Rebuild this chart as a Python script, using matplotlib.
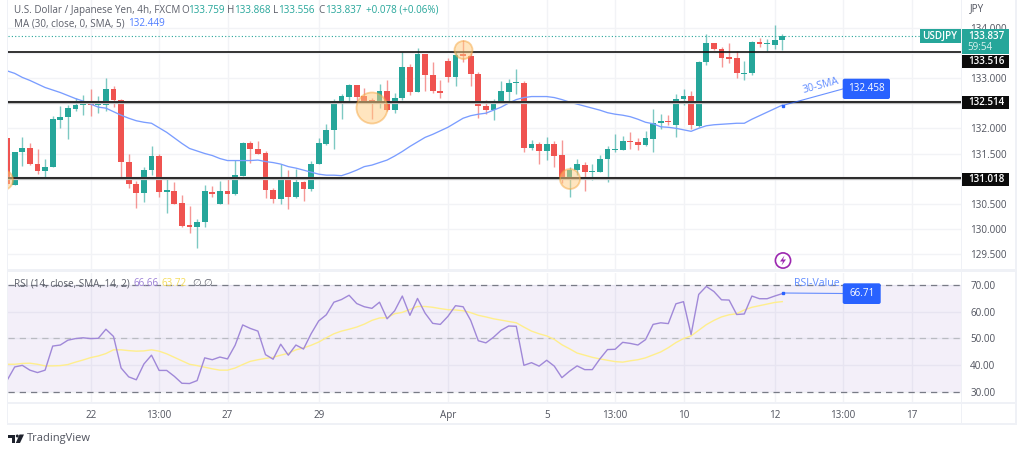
import numpy as np
import matplotlib
matplotlib.use("Agg")
import matplotlib.pyplot as plt
from matplotlib.patches import Circle, Rectangle, FancyBboxPatch, Polygon

opens = [131.80,130.88,131.52,131.60,131.30,131.15,131.24,132.17,132.22,132.39,
132.46,132.51,132.46,132.47,132.78,132.57,131.34,130.89,130.71,131.17,
131.46,130.74,130.76,130.51,130.08,130.05,130.14,130.74,130.50,130.76,
130.70,131.06,131.70,131.59,131.51,130.78,130.60,131.03,130.63,130.94,
130.79,131.29,131.69,131.97,132.51,132.63,132.85,132.64,132.56,132.52,
132.75,132.36,132.61,133.22,132.73,133.48,133.06,132.75,133.34,133.01,
133.47,133.43,133.08,132.44,132.36,132.53,132.73,132.89,132.89,131.60,
131.68,131.54,131.68,131.47,130.99,131.17,131.28,131.14,131.14,131.40,
131.57,131.57,131.75,131.73,131.67,131.79,132.11,132.14,132.07,132.59,
132.65,132.05,133.31,133.69,133.57,133.41,133.39,133.08,133.09,133.72,
133.67,133.66,133.76]
highs = [131.80,131.52,131.83,131.70,131.59,131.40,132.24,132.45,132.46,132.61,
132.66,132.77,132.64,132.99,132.83,132.59,131.49,130.95,131.24,131.65,
131.49,131.02,130.94,130.68,130.46,130.21,130.88,130.85,130.95,131.03,
131.37,131.72,131.75,131.75,131.54,130.81,131.30,131.17,131.19,130.96,
131.36,131.80,132.09,132.58,132.69,132.87,132.85,132.79,132.61,132.87,
132.96,132.71,133.51,133.28,133.59,133.48,133.31,132.96,133.39,133.51,
133.75,133.49,133.11,132.56,132.59,132.94,132.97,133.17,132.94,131.77,
131.72,131.83,131.75,131.77,131.24,131.40,131.34,131.29,131.47,131.65,
131.89,131.85,131.92,131.81,131.95,132.38,132.28,132.26,132.68,132.78,
132.74,133.34,133.87,133.69,133.61,133.70,133.54,133.34,133.73,133.80,
133.77,134.04,133.87]
lows = [130.87,130.88,131.25,131.27,131.09,131.02,131.24,132.01,131.79,132.35,
132.26,132.25,132.30,132.35,132.43,130.99,130.82,130.41,130.54,131.07,
130.64,130.31,130.50,130.05,129.92,129.63,130.05,130.64,130.49,130.49,
130.68,131.05,131.32,131.49,130.62,130.52,130.50,130.39,130.62,130.56,
130.76,131.29,131.67,131.59,132.18,132.54,132.53,132.50,132.18,132.41,
132.35,132.31,132.56,132.67,132.73,132.75,132.71,132.61,132.91,132.83,
133.32,132.84,132.20,132.28,132.17,132.51,132.51,132.69,131.52,131.57,
131.29,131.37,131.23,130.91,130.63,131.07,130.76,130.97,131.13,130.94,
131.53,131.57,131.59,131.56,131.64,131.52,131.99,132.07,131.82,132.46,
131.99,132.02,133.26,133.55,133.22,133.30,132.99,132.96,133.06,133.62,
133.54,133.57,133.55]
closes = [130.89,131.52,131.60,131.29,131.15,131.24,132.18,132.22,132.40,132.46,
132.52,132.46,132.48,132.78,132.57,131.34,130.89,130.71,131.17,131.46,
130.74,130.77,130.50,130.07,130.05,130.15,130.75,130.70,130.76,130.69,
131.07,131.70,131.58,131.50,130.78,130.60,131.03,130.63,130.94,130.79,
131.29,131.70,131.97,132.53,132.64,132.85,132.63,132.54,132.52,132.75,
132.36,132.61,133.22,132.73,133.48,133.06,132.74,132.71,133.01,133.46,
133.43,133.08,132.44,132.36,132.53,132.74,132.89,132.91,131.60,131.68,
131.54,131.68,131.46,130.99,131.17,131.29,131.14,131.16,131.40,131.58,
131.59,131.75,131.72,131.67,131.80,132.11,132.14,132.12,132.59,132.65,
132.07,133.32,133.69,133.57,133.39,133.38,133.09,133.10,133.72,133.67,
133.68,133.75,133.83]
sma30 = [133.14,133.09,133.01,132.95,132.88,132.81,132.76,132.71,132.65,132.59,
132.54,132.48,132.42,132.40,132.33,132.26,132.20,132.15,132.12,132.10,
132.01,131.92,131.81,131.70,131.60,131.55,131.50,131.46,131.40,131.36,
131.36,131.36,131.36,131.37,131.34,131.32,131.29,131.24,131.21,131.17,
131.13,131.09,131.07,131.07,131.06,131.11,131.17,131.24,131.27,131.32,
131.37,131.45,131.54,131.64,131.73,131.82,131.88,131.95,132.02,132.11,
132.20,132.25,132.28,132.30,132.36,132.42,132.50,132.57,132.61,132.63,
132.63,132.63,132.61,132.57,132.52,132.48,132.44,132.40,132.36,132.31,
132.28,132.26,132.23,132.18,132.12,132.09,132.03,132.02,132.00,131.97,
131.94,132.00,132.05,132.07,132.08,132.09,132.10,132.10,132.18,132.25,
132.32,132.39,132.46]
rsi = [34.3,39.3,39.9,38.1,37.2,38.1,47.1,47.5,49.3,49.9,
50.2,49.9,50.0,53.4,50.7,38.9,35.6,34.5,40.4,43.7,
38.0,38.0,35.8,33.2,33.1,34.2,42.7,42.0,43.0,42.3,
47.4,55.0,53.7,52.7,43.9,42.2,47.8,43.7,47.5,46.0,
51.7,56.5,58.8,63.5,64.5,66.1,63.0,61.8,61.2,63.5,
57.3,60.3,65.8,58.6,64.9,59.4,55.6,55.2,58.2,62.2,
61.8,56.7,49.1,48.3,50.4,53.0,54.6,54.5,39.9,40.9,
39.6,41.8,39.6,35.3,37.7,39.7,38.3,38.3,42.3,45.8,
45.9,48.5,48.1,47.5,49.5,55.2,55.8,55.5,62.9,63.7,
51.4,66.4,69.4,67.5,64.4,64.3,58.9,59.1,65.8,64.8,
64.8,65.8,66.71]
rsi_ma = [40.3,40.3,40.6,40.7,40.3,39.7,39.7,39.8,40.2,41.1,
41.9,42.8,43.4,44.3,45.7,45.7,45.4,45.2,45.3,45.7,
45.2,44.2,42.9,41.6,40.3,39.8,39.2,38.6,38.1,38.1,
38.9,40.2,41.4,42.0,42.5,42.9,43.7,44.4,45.7,46.4,
47.4,48.6,50.2,51.7,52.7,53.4,54.2,55.3,56.7,57.6,
57.7,59.2,59.7,60.8,61.9,61.9,61.6,61.1,60.7,60.6,
60.3,59.6,58.6,58.0,57.3,56.8,56.3,55.8,54.2,52.7,
51.7,50.9,49.6,47.6,46.1,44.5,43.7,42.9,42.3,41.8,
41.3,41.1,41.6,42.0,42.7,43.8,44.9,46.5,48.4,49.9,
50.9,53.0,55.1,56.7,58.0,58.8,59.2,60.6,61.6,62.2,
62.8,63.4,63.72]
support_levels = [133.516, 132.514, 131.018]
price_ticks = [134.0,133.5,133.0,132.5,132.0,131.5,131.0,130.5,130.0,129.5]
hidden_price_ticks = [133.5, 132.5, 131.0]
rsi_ticks = [70,60,50,40,30]
time_tick_pos = [11,20,29,41,58,71,80,89,101,110,119]
time_tick_labels = ["22","13:00","27","29","Apr","5","13:00","10","12","13:00","17"]
last_price = 133.837
sma_last = 132.458
rsi_last = 66.71

plt.rcParams['font.family'] = ['Open Sans', 'DejaVu Sans']
W, H = 1024, 453
GREEN, RED, BLUE = '#26a69a', '#ef5350', '#2962ff'
GRID, FRAME, TXT = '#f2f3f6', '#eff1f6', '#50535e'
FS = 7.1
fig = plt.figure(figsize=(W/100, H/100), dpi=100, facecolor='white')

def place(x0, y0, x1, y1, **kw):
    return fig.add_axes([x0/W, 1-y1/H, (x1-x0)/W, (y1-y0)/H], **kw)

xlim = ((8-7.1)/7.6, (961.5-7.1)/7.6)
ax = place(8, 0, 961.5, 268.5)
ax.set_xlim(*xlim)
ax.set_ylim(129.218, 134.546)
rx = place(8, 272.5, 961.5, 402)
rx.set_xlim(*xlim)
rx.set_ylim(26.2, 74.6)

idx = np.arange(len(closes))
for a in (ax, rx):
    for s in a.spines.values():
        s.set_visible(False)
    a.set_xticks(time_tick_pos)
    a.grid(True, color=GRID, lw=1)
    a.set_axisbelow(True)
    a.yaxis.tick_right()

ax.set_yticks(price_ticks)
ax.set_yticklabels(["" if v in hidden_price_ticks else f"{v:.3f}" for v in price_ticks])
ax.tick_params(axis='y', length=0, pad=6.2, labelsize=FS, labelcolor=TXT)
ax.tick_params(axis='x', length=0, labelbottom=False)
rx.set_yticks(rsi_ticks)
rx.set_yticklabels([f"{v:.2f}" for v in rsi_ticks])
rx.tick_params(axis='y', length=0, pad=6.2, labelsize=FS, labelcolor=TXT)
rx.set_xticklabels(time_tick_labels)
rx.tick_params(axis='x', length=0, pad=5.5, labelsize=FS, labelcolor=TXT)

# candles
o, h, l, c = map(np.array, (opens, highs, lows, closes))
cols = [GREEN if cc >= oo else RED for oo, cc in zip(o, c)]
ax.vlines(idx, l, h, colors=cols, lw=1.0, alpha=0.6, zorder=3)
bottoms = np.minimum(o, c)
heights = np.maximum(np.abs(c-o), 0.02)
ax.bar(idx, heights, bottom=bottoms, width=0.74, color=cols, lw=0, zorder=4)

ax.plot(idx, sma30, color='#7a9dff', lw=0.95, zorder=5)
ax.axhline(last_price, color=GREEN, lw=0.8, ls=(0, (1, 2)), zorder=2)
for lv in support_levels:
    if lv != support_levels[0]:
        ax.axhline(lv, color='#bdbdbd', lw=2.3, zorder=5.5)
    ax.axhline(lv, color='#111111', lw=1.2, zorder=6)

# RSI pane
rx.axhspan(30, 70, color='#7e57c2', alpha=0.09, lw=0, zorder=1)
rx.axhline(70, color='#787b86', lw=0.9, ls=(0, (5, 4)), zorder=2)
rx.axhline(50, color='#b9bbc2', lw=0.9, ls=(0, (5, 4)), zorder=2)
rx.axhline(30, color='#787b86', lw=0.9, ls=(0, (5, 4)), zorder=2)
rx.plot(idx, rsi_ma, color='#ffee8c', lw=1.0, zorder=3)
rx.plot(idx, rsi, color='#a088d8', lw=1.0, zorder=4)

# pixel overlay
ov = fig.add_axes([0, 0, 1, 1], zorder=10)
ov.set_xlim(0, W)
ov.set_ylim(H, 0)
ov.axis('off')
ov.patch.set_alpha(0)

# frame
for (x0, y0, x1, y1) in [(6.5, 0, 8, 424), (961, 0, 962, 424), (1015, 0, 1016.5, 424),
                         (8, 269, 1015, 272), (8, 402, 1015, 403.5), (6.5, 423, 1016.5, 425)]:
    ov.add_patch(Rectangle((x0, y0), x1-x0, y1-y0, color=FRAME, lw=0))

# highlight circles
for cx, cy, r in [(3, 180, 10), (372, 108, 15.5), (463.5, 50, 9), (570, 179, 10)]:
    p = Circle((cx, cy), r, fc='#ffcc80', ec='#f5a742', alpha=0.5, lw=1.3)
    ov.add_patch(p)
    p.set_clip_box(ax.bbox)

def box(x0, y0, x1, y1, color, rounded=False):
    if rounded:
        ov.add_patch(FancyBboxPatch((x0+2, y0+2), x1-x0-4, y1-y0-4, boxstyle='round,pad=2',
                                    fc=color, ec='none'))
    else:
        ov.add_patch(Rectangle((x0, y0), x1-x0, y1-y0, color=color, lw=0))

# last price tags
box(961.5, 29.3, 1009, 54.3, GREEN)
box(919.5, 29.3, 961, 42.7, GREEN)
ov.text(940, 36.3, "USDJPY", color='white', fontsize=FS, ha='center', va='center', fontweight='semibold')
ov.text(986, 36.5, f"{last_price:.3f}", color='white', fontsize=FS, ha='center', va='center', fontweight='semibold')
ov.text(980, 48, "59:54", color='#d8f1ee', fontsize=FS, ha='center', va='center')
for lv, y0 in zip(support_levels, [55, 96, 172.5]):
    box(961.5, y0, 1009, y0+13.3, '#0b0b0b')
    ov.text(986, y0+6.6, f"{lv:.3f}", color='white', fontsize=FS, ha='center', va='center', fontweight='semibold')
ov.text(970, 9, "JPY", color=TXT, fontsize=FS, ha='left', va='center')

# callouts
ov.plot([782.5, 842.7], [105.5, 89], color=BLUE, lw=0.8, alpha=0.7)
ov.plot([782.5], [105.5], 's', color=BLUE, ms=2)
box(842.7, 78.7, 890, 99, BLUE, True)
ov.text(866.4, 88.8, f"{sma_last:.3f}", color='white', fontsize=FS, ha='center', va='center')
ov.text(820.5, 86, "30-SMA", color='#5f8bff', fontsize=7.6, ha='center', va='center', rotation=15)
ov.plot([782.5, 842.7], [293, 293.5], color=BLUE, lw=0.8, alpha=0.7)
ov.plot([782.5], [293], 's', color=BLUE, ms=2)
box(842.7, 283.3, 880.7, 304, BLUE, True)
ov.text(861.7, 293.6, f"{rsi_last:.2f}", color='white', fontsize=FS, ha='center', va='center')
ov.text(816.7, 284, "RSI-Value", color='#5f8bff', fontsize=7.6, ha='center', va='center')

# lightning icon
ov.add_patch(Circle((783, 260.5), 7.6, fc='white', ec='#9c27b0', lw=1.2))
ov.add_patch(Polygon([(784.5, 255.5), (780, 261.5), (783, 261.5), (781.5, 265.5), (786, 259.5), (783, 259.5)],
                     fc='#9c27b0', ec='none'))

# legends
TITLE = '#5d606b'
ov.text(14, 10.5, "U.S. Dollar / Japanese Yen, 4h, FXCM", color=TITLE, fontsize=FS, va='center')
for x, s, col in [(181, "O", TITLE), (188, "133.759", GREEN), (227, "H", TITLE), (234, "133.868", GREEN),
                  (273, "L", TITLE), (278, "133.556", GREEN), (318, "C", TITLE), (325, "133.837", GREEN),
                  (366, "+0.078 (+0.06%)", GREEN)]:
    ov.text(x, 10.5, s, color=col, fontsize=FS, va='center')
ov.text(14, 24, "MA (30, close, 0, SMA, 5)", color=TITLE, fontsize=FS, va='center')
ov.text(128, 24, "132.449", color='#4f7dff', fontsize=FS, va='center')
ov.text(14, 283.5, "RSI (14, close, SMA, 14, 2)", color=TITLE, fontsize=FS, va='center')
ov.text(133, 283.5, "66.66", color='#9b7fd6', fontsize=FS, va='center')
ov.text(162, 283.5, "63.72", color='#f5dc5a', fontsize=FS, va='center')
ov.text(192, 283.5, "∅", color=TITLE, fontsize=FS, va='center')
ov.text(203, 283.5, "∅", color=TITLE, fontsize=FS, va='center')

# TradingView mark
ov.add_patch(Polygon([(8, 434.5), (15, 434.5), (15, 443), (11.5, 443), (11.5, 437.5), (8, 437.5)], fc='#1e222d', ec='none'))
ov.add_patch(Circle((17.3, 436), 1.5, fc='#1e222d', ec='none'))
ov.add_patch(Polygon([(19.5, 434.5), (24, 434.5), (20, 443), (15.8, 443)], fc='#1e222d', ec='none'))
ov.text(27, 439, "TradingView", color='#50535e', fontsize=8, va='center')

fig.savefig("out.png", dpi=100)
